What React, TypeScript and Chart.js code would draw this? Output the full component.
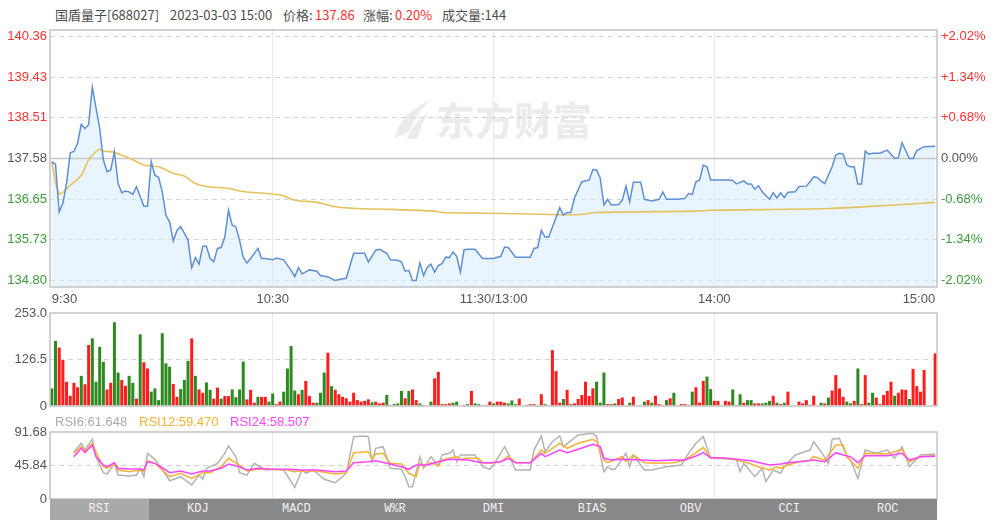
import React, { useEffect, useRef } from 'react';
import { Chart, registerables } from 'chart.js';

Chart.register(...registerables);

// ---------------- DATA ----------------
const prevClose = 137.58;

const timeTickMinutes = [0, 60, 120, 180, 240];
const timeTickLabels = ['9:30', '10:30', '11:30/13:00', '14:00', '15:00'];

const priceTicks = [134.8, 135.73, 136.65, 137.58, 138.51, 139.43, 140.36];
const volumeTicks = [0, 126.5, 253];
const volumeTickLabels = ['0', '126.5', '253.0'];
const rsiTicks = [0, 45.84, 91.68];
const rsiTickLabels = ['0', '45.84', '91.68'];

const priceMinutes = [
  0, 1, 2, 3, 4, 5, 6, 7, 8, 9,
  10, 11, 12, 13, 14, 15, 16, 17, 18, 19,
  20, 21, 22, 23, 25, 26, 27, 28, 29, 30,
  31, 32, 33, 34, 35, 37, 38, 39, 40, 41,
  42, 43, 44, 45, 46, 47, 48, 49, 50, 51,
  52, 53, 54, 56, 57, 58, 60, 61, 63, 65,
  66, 67, 68, 70, 72, 73, 75, 77, 78, 80,
  82, 85, 86, 88, 89, 91, 92, 94, 95, 96,
  97, 98, 99, 100, 101, 102, 103, 104, 105, 106,
  107, 108, 109, 110, 111, 112, 113, 115, 117, 120,
  122, 123, 124, 126, 130, 131, 132, 133, 134, 135,
  138, 139, 140, 141, 142, 144, 146, 147, 148, 149,
  150, 151, 152, 154, 155, 156, 157, 158, 160, 161,
  163, 165, 166, 167, 170, 172, 173, 174, 175, 176,
  177, 178, 179, 181, 184, 185, 186, 188, 189, 190,
  191, 192, 193, 195, 196, 197, 198, 199, 200, 202,
  203, 205, 206, 207, 208, 209, 210, 212, 213, 214,
  215, 216, 217, 218, 219, 220, 221, 222, 223, 225,
  227, 229, 230, 231, 233, 234, 235, 237, 240,
];
const priceValues = [
  137.5, 137.45, 136.36, 136.56, 137.02, 137.71, 137.74, 137.93, 138.36, 138.26,
  138.35, 139.21, 138.73, 138.27, 137.55, 137.28, 137.32, 137.74, 137.01, 136.8,
  136.84, 136.82, 136.76, 136.94, 136.49, 136.49, 137.51, 137.2, 137.15, 136.82,
  136.29, 136.13, 135.7, 135.94, 136.03, 135.72, 135.09, 135.32, 135.17, 135.58,
  135.58, 135.3, 135.23, 135.53, 135.55, 135.79, 136.4, 136.06, 136.02, 135.72,
  135.33, 135.2, 135.3, 135.53, 135.3, 135.3, 135.27, 135.31, 135.27, 135.03,
  134.89, 135.09, 134.95, 135.04, 135.01, 134.91, 134.88, 134.8, 134.82, 134.85,
  135.42, 135.42, 135.22, 135.49, 135.51, 135.42, 135.27, 135.26, 135.22, 135.01,
  135.03, 134.8, 134.8, 135.2, 134.91, 135.1, 135.17, 134.99, 135.14, 135.18,
  135.33, 135.32, 135.45, 135.35, 134.99, 135.5, 135.51, 135.51, 135.3, 135.3,
  135.35, 135.56, 135.55, 135.33, 135.33, 135.53, 135.55, 135.94, 135.79, 135.79,
  136.46, 136.29, 136.35, 136.35, 136.68, 137.05, 137.09, 137.33, 137.32, 137.13,
  136.52, 136.65, 136.52, 136.53, 136.63, 136.95, 136.59, 137.04, 137.04, 136.65,
  136.61, 136.65, 136.82, 136.65, 136.65, 136.67, 136.78, 136.76, 137.05, 137.09,
  137.43, 137.39, 137.09, 137.09, 137.09, 137.08, 137.0, 137.07, 137.0, 137.0,
  136.88, 136.96, 136.82, 136.65, 136.8, 136.68, 136.8, 136.69, 136.81, 136.82,
  136.94, 136.95, 137.05, 137.16, 137.15, 137.07, 137.01, 137.39, 137.66, 137.7,
  137.68, 137.43, 137.39, 137.39, 137.0, 137.0, 137.75, 137.68, 137.7, 137.7,
  137.77, 137.58, 137.6, 137.94, 137.58, 137.58, 137.76, 137.85, 137.86,
];

const avgMinutes = [0, 2, 5, 8, 10, 12, 13, 14, 17, 20, 22, 25, 29, 33, 36, 39, 42, 48, 51, 54, 62, 66, 72, 77, 83, 92, 104, 106, 119, 133, 143, 148, 175, 179, 211, 229, 240];
const avgValues = [137.5, 136.78, 136.97, 137.2, 137.55, 137.74, 137.79, 137.75, 137.72, 137.62, 137.55, 137.43, 137.39, 137.24, 137.18, 137.01, 136.94, 136.9, 136.84, 136.81, 136.75, 136.63, 136.58, 136.48, 136.44, 136.42, 136.38, 136.35, 136.33, 136.31, 136.3, 136.35, 136.38, 136.4, 136.44, 136.52, 136.58];

const volumeValues = [
  48, 177, 159, 125, 66, 28, 63, 51, 82, 59,
  166, 184, 66, 161, 120, 45, 63, 228, 91, 71,
  55, 82, 63, 20, 195, 119, 102, 39, 48, 16,
  198, 116, 107, 60, 25, 46, 71, 123, 184, 82,
  45, 36, 64, 44, 20, 50, 20, 27, 27, 45,
  24, 45, 121, 18, 44, 9, 25, 25, 25, 12,
  34, 5, 12, 39, 102, 163, 42, 32, 44, 68,
  27, 9, 9, 36, 91, 145, 54, 44, 32, 25,
  21, 12, 36, 16, 12, 14, 18, 10, 12, 7,
  9, 30, 3, 5, 7, 41, 21, 41, 45, 16,
  7, 3, 0, 12, 75, 93, 5, 5, 7, 9,
  12, 0, 3, 5, 41, 7, 5, 0, 3, 12,
  7, 12, 12, 9, 7, 15, 5, 20, 0, 3,
  5, 5, 0, 32, 5, 0, 152, 95, 9, 19,
  44, 5, 7, 19, 30, 66, 27, 48, 66, 9,
  91, 5, 5, 7, 19, 23, 0, 9, 25, 0,
  0, 12, 16, 9, 28, 5, 3, 16, 21, 36,
  0, 5, 5, 3, 39, 51, 9, 68, 80, 46,
  14, 14, 0, 14, 12, 45, 3, 32, 9, 16,
  16, 7, 7, 7, 9, 14, 28, 9, 5, 9,
  39, 0, 0, 12, 7, 16, 3, 28, 0, 9,
  7, 23, 42, 84, 48, 25, 12, 7, 14, 102,
  5, 84, 9, 36, 23, 5, 30, 41, 66, 28,
  36, 45, 44, 19, 101, 54, 39, 98, 0, 0,
  143,
];
const volumeSides = (
  'GGRRRRRRGR' + 'RGGGGRRGGR' + 'RGGRGRRGGG' + 'GGGRRGGGRG' + 'RRGGRRGRRG' +
  'GGGRRRGRRG' + 'GRRGGGGRGR' + 'RRGGGRGRRR' + 'RRRRRRRGRR' + 'RGRGGGRGRR' +
  'GRRGRRRRRG' + 'GRRGRGGRRR' + 'GRRRGGGRRR' + 'RRRRGRRRRG' + 'RRRRRRRRGG' +
  'GRRGRRRGRR' + 'RGRGRRRGRG' + 'RRRRGRRRGG' + 'RRRRRGRGRG' + 'GRRGGGRGRG' +
  'RRRRRRRRRG' + 'RGRRRRGGRG' + 'RRGGRRRRRG' + 'RRRGRRRRRR' + 'R'
).split('');

const rsi6Minutes = [6, 8, 9, 11, 12, 14, 15, 17, 18, 21, 23, 24, 25, 26, 28, 31, 32, 35, 38, 40, 41, 42, 45, 47, 48, 50, 51, 53, 55, 58, 61, 63, 65, 66, 68, 69, 71, 74, 77, 80, 82, 85, 86, 87, 88, 90, 92, 95, 96, 97, 98, 100, 101, 103, 105, 106, 108, 109, 110, 111, 115, 117, 119, 120, 123, 124, 126, 130, 131, 133, 134, 136, 138, 139, 143, 147, 148, 150, 151, 152, 153, 156, 157, 158, 161, 163, 167, 171, 173, 175, 177, 179, 186, 187, 188, 191, 193, 194, 196, 198, 199, 202, 206, 207, 209, 211, 212, 214, 216, 217, 219, 221, 224, 227, 229, 231, 233, 236, 240];
const rsi6Values = [64.7, 76.2, 67, 81.7, 57.9, 36, 34.2, 48.8, 32.8, 31.5, 32.8, 42, 30.5, 62.5, 54.3, 32.8, 25, 30.5, 19.2, 32.8, 26.9, 42, 48.8, 62.5, 72.5, 57.9, 36, 32.8, 48.8, 39.7, 40.6, 39.7, 23.7, 16, 39.7, 35.2, 39.7, 26.9, 22.3, 35.2, 85.3, 86.2, 85.3, 51, 69.4, 71.6, 42, 40.6, 30.5, 16.8, 16.8, 57.9, 42, 57.9, 45.4, 60.2, 62.5, 67, 51, 60.2, 60.2, 44.2, 40.6, 46.5, 71.6, 62.5, 39.7, 39.7, 67, 86.2, 64.7, 78.4, 86.2, 71.6, 87.6, 89.9, 85.3, 37.4, 44.2, 40.6, 40.6, 62.5, 44.2, 60.2, 39.7, 39.7, 44.2, 46.5, 62.5, 76.2, 85.3, 55.7, 54.3, 37.4, 48.8, 30.5, 42, 23.7, 39.7, 35.2, 44.2, 60.2, 67, 78.4, 64.7, 48.8, 81.7, 83, 57.9, 53.4, 28.3, 67, 62.5, 67, 55.7, 71.6, 44.2, 60.2, 61.6];

const rsi12Minutes = [6, 8, 9, 11, 13, 14, 15, 17, 18, 21, 24, 25, 26, 28, 31, 32, 35, 38, 41, 43, 46, 48, 51, 53, 56, 59, 64, 66, 68, 72, 77, 80, 82, 86, 87, 88, 90, 92, 95, 97, 99, 100, 101, 103, 105, 106, 108, 110, 111, 112, 116, 117, 119, 122, 124, 126, 130, 133, 134, 138, 140, 143, 147, 148, 150, 151, 155, 156, 158, 161, 164, 169, 172, 175, 177, 179, 182, 186, 189, 192, 195, 197, 198, 200, 203, 206, 207, 210, 213, 215, 216, 219, 221, 227, 231, 233, 236, 240];
const rsi12Values = [62.5, 71.6, 64.7, 76.2, 53.4, 44.2, 42, 48.8, 39.7, 37.4, 39.7, 37.4, 52.4, 48.8, 35.2, 30.5, 35.2, 28.3, 36, 36, 44.2, 55.7, 46.5, 38.3, 40.6, 40.6, 39.7, 37.4, 38.8, 38.3, 34.2, 36, 63.4, 64.7, 54.3, 61.6, 62.5, 48.8, 48, 35.2, 30.5, 48.8, 44.2, 49.7, 45.4, 53.4, 55.7, 57.9, 53.4, 55.7, 55.7, 49.7, 48.8, 51, 58.8, 49.7, 49.7, 67, 62.5, 76.2, 69.4, 76.2, 81.7, 78.4, 53.4, 49.7, 57.9, 51, 60.2, 49.7, 48.8, 49.7, 53.4, 63.4, 70.7, 56.5, 56.5, 53.4, 49.7, 44.2, 39.7, 44.2, 42, 46.5, 51, 53.4, 57.9, 53.4, 73.9, 73.9, 57.9, 42, 62.5, 61.6, 68, 51, 57.9, 59.5];

const rsi24Minutes = [6, 8, 9, 11, 12, 14, 15, 17, 18, 21, 24, 25, 26, 28, 31, 32, 35, 38, 41, 43, 46, 48, 51, 53, 56, 59, 64, 68, 72, 77, 80, 82, 86, 88, 91, 95, 97, 99, 102, 105, 108, 113, 117, 119, 122, 124, 126, 130, 133, 134, 138, 140, 143, 147, 149, 150, 152, 155, 160, 164, 169, 172, 175, 177, 179, 182, 186, 190, 195, 198, 200, 205, 207, 210, 213, 215, 217, 219, 221, 227, 231, 233, 236, 240];
const rsi24Values = [57.9, 69.4, 63.4, 73.9, 57.9, 46.5, 44.2, 49.7, 42, 41, 41, 39.7, 51, 48.8, 39.7, 36, 38.3, 34.2, 38.3, 38.3, 42, 47.9, 44.2, 39.7, 42, 41, 40.6, 39.7, 39.7, 37.4, 38.3, 49.7, 51, 52.4, 48.8, 44.2, 40.6, 46.5, 46.5, 51, 54.3, 53.4, 49.7, 49.7, 51, 55.7, 49.7, 49.7, 62.5, 57.9, 67, 63.4, 68, 74.8, 71.6, 55.7, 53.4, 54.3, 53.4, 52.4, 53.4, 53.4, 58.8, 63.4, 56.5, 56.5, 54.3, 52.4, 46.5, 47.9, 49.7, 52, 53.4, 51, 63.4, 60.2, 57.9, 49.7, 59.2, 59.2, 62.5, 53.4, 57.9, 58.5];

const tabNames = ['RSI', 'KDJ', 'MACD', 'W%R', 'DMI', 'BIAS', 'OBV', 'CCI', 'ROC'];

// ---------------- STYLE ----------------
const RED = '#ff3030';
const GREEN = '#3b9a3b';
const TXT = '#555555';
const CLEAR = 'rgba(0,0,0,0)';

Chart.defaults.font.family = '"Liberation Sans", Arial, sans-serif';
Chart.defaults.font.size = 13;

function levelColor(v: number) {
  if (Math.abs(v - prevClose) < 0.005) return TXT;
  return v > prevClose ? RED : GREEN;
}

function pts(xs: number[], ys: number[]) {
  return xs.map((x, i) => ({ x, y: ys[i] }));
}

const framePlugin: any = {
  id: 'frame',
  beforeDatasetsDraw(chart: any, _a: any, opts: any) {
    if (opts && opts.refValue != null) {
      const { ctx, chartArea: a } = chart;
      const y = chart.scales.y.getPixelForValue(opts.refValue);
      ctx.save();
      ctx.strokeStyle = '#c6c6c6';
      ctx.lineWidth = 1.3;
      ctx.beginPath();
      ctx.moveTo(a.left, y);
      ctx.lineTo(a.right, y);
      ctx.stroke();
      ctx.restore();
    }
  },
  afterDraw(chart: any) {
    const { ctx, chartArea: a } = chart;
    ctx.save();
    ctx.strokeStyle = '#c3c3c3';
    ctx.lineWidth = 1.5;
    ctx.strokeRect(a.left, a.top, a.right - a.left, a.bottom - a.top);
    ctx.restore();
  },
};

function timeAxis(showLabels: boolean): any {
  return {
    type: 'linear',
    min: -0.5,
    max: 240.5,
    offset: false,
    afterBuildTicks: (s: any) => {
      s.ticks = timeTickMinutes.map((v) => ({ value: v }));
    },
    afterFit: (s: any) => {
      s.height = showLabels ? 23 : 14;
    },
    grid: {
      offset: false,
      drawTicks: false,
      lineWidth: 1,
      color: (c: any) => (c.tick && c.tick.value > 0 && c.tick.value < 240 ? '#e8e8e8' : CLEAR),
    },
    border: { display: false },
    ticks: {
      display: showLabels,
      autoSkip: false,
      maxRotation: 0,
      minRotation: 0,
      align: 'inner',
      padding: 5,
      color: TXT,
      font: { size: 13 },
      callback: (v: any) => {
        const k = timeTickMinutes.indexOf(Number(v));
        return k >= 0 ? timeTickLabels[k] : '';
      },
    },
  };
}

function leftAxis(min: number, max: number, ticks: number[], label: (v: number) => string, color: any, dashedOnly: (v: number) => boolean): any {
  return {
    type: 'linear',
    position: 'left',
    min,
    max,
    afterBuildTicks: (s: any) => {
      s.ticks = ticks.map((v) => ({ value: v }));
    },
    afterFit: (s: any) => {
      s.width = 50;
    },
    grid: {
      drawTicks: false,
      lineWidth: 1,
      color: (c: any) => (c.tick && dashedOnly(c.tick.value) ? '#d4d4d4' : CLEAR),
    },
    border: { display: false, dash: [5, 4] },
    ticks: {
      padding: 3,
      color,
      font: { size: 13 },
      callback: (v: any) => label(Number(v)),
    },
  };
}

export default function App() {
  const priceRef = useRef<HTMLCanvasElement>(null);
  const volRef = useRef<HTMLCanvasElement>(null);
  const rsiRef = useRef<HTMLCanvasElement>(null);

  useEffect(() => {
    const charts: Chart[] = [];

    // ---- price chart ----
    const priceY = leftAxis(
      134.65,
      140.51,
      priceTicks,
      (v) => v.toFixed(2),
      (c: any) => levelColor(c.tick.value),
      (v) => Math.abs(v - prevClose) > 0.005,
    );
    charts.push(
      new Chart(priceRef.current as HTMLCanvasElement, {
        type: 'line',
        data: {
          datasets: [
            {
              data: pts(priceMinutes, priceValues),
              borderColor: '#5f8fd3',
              borderWidth: 1.5,
              pointRadius: 0,
              fill: 'start',
              backgroundColor: 'rgba(214,236,253,0.55)',
              tension: 0,
            },
            {
              data: pts(avgMinutes, avgValues),
              borderColor: '#e6c25e',
              borderWidth: 1.6,
              pointRadius: 0,
              fill: false,
              tension: 0.3,
            },
          ],
        },
        options: {
          responsive: false,
          maintainAspectRatio: false,
          animation: false,
          layout: { padding: { top: 30, left: 0, right: 0, bottom: 0 } },
          plugins: {
            legend: { display: false },
            tooltip: { enabled: false },
            filler: { drawTime: 'beforeDatasetsDraw' },
            frame: { refValue: prevClose },
          } as any,
          scales: {
            x: timeAxis(true),
            y: priceY,
            y2: {
              type: 'linear',
              position: 'right',
              min: 134.65,
              max: 140.51,
              afterBuildTicks: (s: any) => {
                s.ticks = priceTicks.map((v) => ({ value: v }));
              },
              afterFit: (s: any) => {
                s.width = 63;
              },
              grid: { display: false, drawTicks: false },
              border: { display: false },
              ticks: {
                padding: 4,
                color: (c: any) => levelColor(c.tick.value),
                font: { size: 13 },
                callback: (v: any) => {
                  const p = (Number(v) / prevClose - 1) * 100;
                  const s = Math.abs(p) < 0.005 ? '0.00' : p.toFixed(2);
                  return (p > 0.005 ? '+' : '') + s + '%';
                },
              },
            } as any,
          },
        },
        plugins: [framePlugin],
      } as any),
    );

    // ---- volume chart ----
    charts.push(
      new Chart(volRef.current as HTMLCanvasElement, {
        type: 'bar',
        data: {
          datasets: [
            {
              data: volumeValues.map((v, i) => ({ x: i, y: v })),
              backgroundColor: volumeSides.map((s) => (s === 'R' ? '#ff1c1c' : '#2d8a1f')),
              borderWidth: 0,
              barPercentage: 1,
              categoryPercentage: 0.82,
            },
          ],
        },
        options: {
          responsive: false,
          maintainAspectRatio: false,
          animation: false,
          layout: { padding: { top: 13, left: 0, right: 63, bottom: 0 } },
          plugins: { legend: { display: false }, tooltip: { enabled: false } } as any,
          scales: {
            x: timeAxis(false),
            y: leftAxis(
              0,
              253,
              volumeTicks,
              (v) => volumeTickLabels[volumeTicks.indexOf(v)] ?? '',
              TXT,
              (v) => v > 0 && v < 253,
            ),
          },
        },
        plugins: [framePlugin],
      } as any),
    );

    // ---- RSI chart ----
    const lineDs = (xs: number[], ys: number[], color: string, order: number) => ({
      data: pts(xs, ys),
      borderColor: color,
      borderWidth: 1.5,
      pointRadius: 0,
      fill: false,
      tension: 0,
      order,
    });
    charts.push(
      new Chart(rsiRef.current as HTMLCanvasElement, {
        type: 'line',
        data: {
          datasets: [
            lineDs(rsi6Minutes, rsi6Values, '#b3b3b3', 3),
            lineDs(rsi12Minutes, rsi12Values, '#f5b335', 2),
            lineDs(rsi24Minutes, rsi24Values, '#ff44ff', 1),
          ],
        },
        options: {
          responsive: false,
          maintainAspectRatio: false,
          animation: false,
          layout: { padding: { top: 12, left: 0, right: 63, bottom: 0 } },
          plugins: { legend: { display: false }, tooltip: { enabled: false } } as any,
          scales: {
            x: timeAxis(false),
            y: leftAxis(
              0,
              91.68,
              rsiTicks,
              (v) => rsiTickLabels[rsiTicks.indexOf(v)] ?? '',
              TXT,
              (v) => v > 0 && v < 91.68,
            ),
          },
        },
        plugins: [framePlugin],
      } as any),
    );

    return () => {
      charts.forEach((c) => c.destroy());
    };
  }, []);

  const hdr: React.CSSProperties = {
    position: 'absolute',
    top: 6,
    fontSize: 13,
    lineHeight: '18px',
    fontFamily: '"Noto Sans CJK SC", "Noto Sans", sans-serif',
    color: '#4d4d4d',
    whiteSpace: 'nowrap',
  };
  const leg: React.CSSProperties = {
    position: 'absolute',
    top: 413,
    fontSize: 13,
    lineHeight: '17px',
    fontFamily: '"Liberation Sans", Arial, sans-serif',
    whiteSpace: 'nowrap',
  };

  return (
    <div style={{ position: 'absolute', left: 0, top: 0, width: 1000, height: 529, background: '#fff', overflow: 'hidden' }}>
      {/* header */}
      <span style={{ ...hdr, left: 55 }}>国盾量子[688027]</span>
      <span style={{ ...hdr, left: 170 }}>2023-03-03 15:00</span>
      <span style={{ ...hdr, left: 283 }}>价格:</span>
      <span style={{ ...hdr, left: 315, color: RED }}>137.86</span>
      <span style={{ ...hdr, left: 363 }}>涨幅:</span>
      <span style={{ ...hdr, left: 395, color: RED }}>0.20%</span>
      <span style={{ ...hdr, left: 442 }}>成交量:144</span>

      {/* watermark */}
      <svg style={{ position: 'absolute', left: 392, top: 98, width: 40, height: 42 }} viewBox="0 0 40 42">
        <path d="M3 40 C 6 26, 16 12, 38 2 C 28 12, 22 22, 17 34 Z" fill="#ebebeb" />
        <path d="M15 41 C 19 31, 25 22, 37 14 C 31 22, 29 31, 25 41 Z" fill="#ebebeb" />
      </svg>
      <span
        style={{
          position: 'absolute',
          left: 436,
          top: 96,
          fontSize: 39,
          lineHeight: '44px',
          fontWeight: 700,
          color: '#ebebeb',
          fontFamily: '"Noto Sans CJK SC", sans-serif',
          whiteSpace: 'nowrap',
        }}
      >
        东方财富
      </span>

      <canvas ref={priceRef} width={1000} height={310} style={{ position: 'absolute', left: 0, top: 0 }} />
      <canvas ref={volRef} width={1000} height={120} style={{ position: 'absolute', left: 0, top: 300 }} />

      {/* RSI legend */}
      <span style={{ ...leg, left: 55, color: '#aaaaaa' }}>RSI6:61.648</span>
      <span style={{ ...leg, left: 139, color: '#f5b335' }}>RSI12:59.470</span>
      <span style={{ ...leg, left: 230, color: '#ff44ff' }}>RSI24:58.507</span>

      <canvas ref={rsiRef} width={1000} height={93} style={{ position: 'absolute', left: 0, top: 420 }} />

      {/* indicator tabs */}
      <div style={{ position: 'absolute', left: 50, top: 499, width: 887, height: 21, display: 'flex', background: '#888888' }}>
        {tabNames.map((t, i) => (
          <div
            key={t}
            style={{
              flex: 1,
              textAlign: 'center',
              lineHeight: '21px',
              fontSize: 12,
              fontFamily: '"Liberation Mono", "DejaVu Sans Mono", monospace',
              color: '#f2f2f2',
              background: i === 0 ? '#a9a9a9' : '#888888',
            }}
          >
            {t}
          </div>
        ))}
      </div>
    </div>
  );
}
